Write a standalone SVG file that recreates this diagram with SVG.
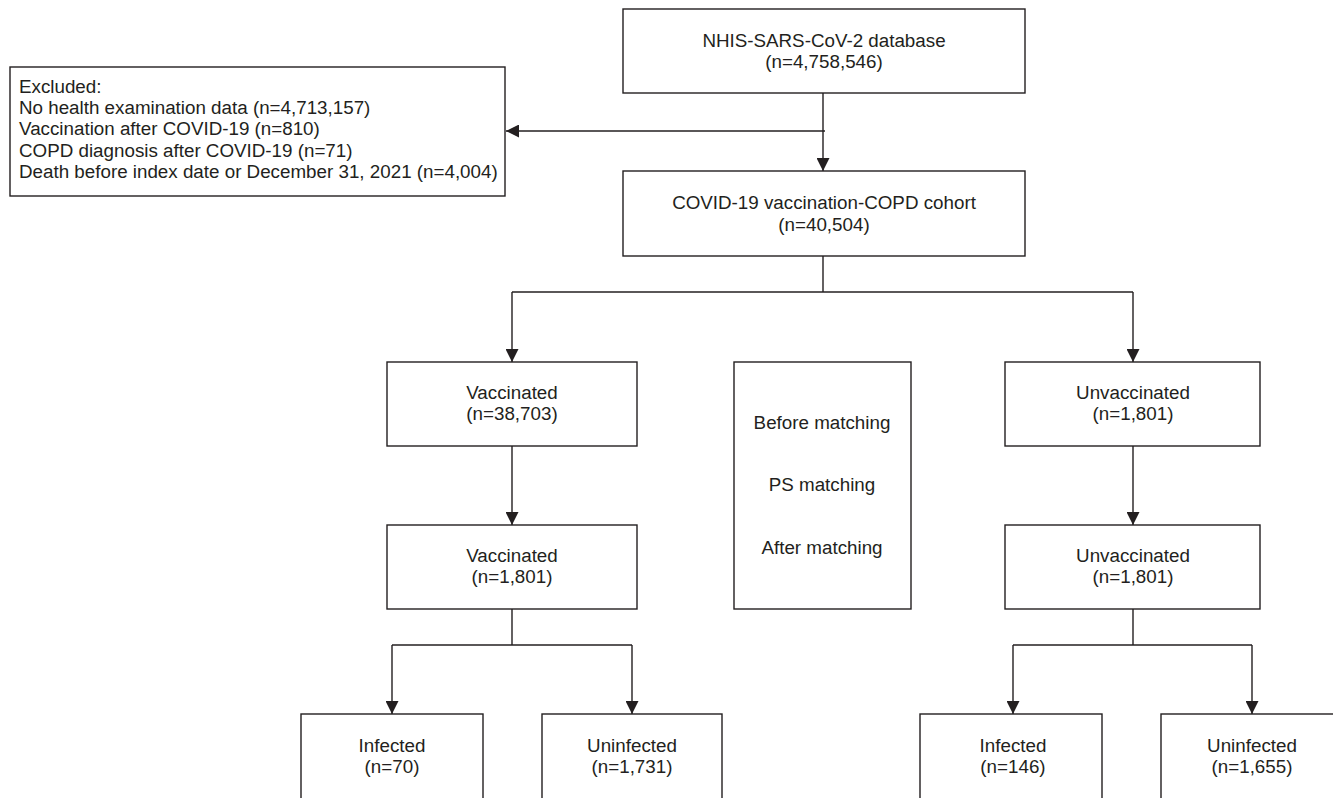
<svg xmlns="http://www.w3.org/2000/svg" width="1333" height="798" viewBox="0 0 1333 798">
<style>
.box{fill:#fff;stroke:#231f20;stroke-width:1.4}
.t{font-family:"Liberation Sans",Arial,sans-serif;font-size:18.8px;fill:#231f20}
.c{text-anchor:middle}
.ln{fill:none;stroke:#231f20;stroke-width:1.4}
</style>
<defs>
<marker id="ah" viewBox="0 0 13 13" refX="13" refY="6.5" markerWidth="13" markerHeight="13" markerUnits="userSpaceOnUse" orient="auto">
<path d="M0,0 L13,6.5 L0,13 Z" fill="#231f20"/>
</marker>
</defs>
<rect width="1333" height="798" fill="#fff"/>
<g id="connectors">
<line class="ln" x1="823" y1="93" x2="823" y2="171" marker-end="url(#ah)"/>
<line class="ln" x1="825" y1="131" x2="506" y2="131" marker-end="url(#ah)"/>
<line class="ln" x1="823" y1="256" x2="823" y2="292"/>
<line class="ln" x1="512" y1="292" x2="1133" y2="292"/>
<line class="ln" x1="512" y1="292" x2="512" y2="362" marker-end="url(#ah)"/>
<line class="ln" x1="1133" y1="292" x2="1133" y2="362" marker-end="url(#ah)"/>
<line class="ln" x1="512" y1="446" x2="512" y2="525" marker-end="url(#ah)"/>
<line class="ln" x1="1133" y1="446" x2="1133" y2="525" marker-end="url(#ah)"/>
<line class="ln" x1="512" y1="609" x2="512" y2="645"/>
<line class="ln" x1="392" y1="645" x2="632" y2="645"/>
<line class="ln" x1="392" y1="645" x2="392" y2="714" marker-end="url(#ah)"/>
<line class="ln" x1="632" y1="645" x2="632" y2="714" marker-end="url(#ah)"/>
<line class="ln" x1="1133" y1="609" x2="1133" y2="645"/>
<line class="ln" x1="1013" y1="645" x2="1252" y2="645"/>
<line class="ln" x1="1013" y1="645" x2="1013" y2="714" marker-end="url(#ah)"/>
<line class="ln" x1="1252" y1="645" x2="1252" y2="714" marker-end="url(#ah)"/>
</g>
<g id="n-db">
<rect class="box" x="623" y="9" width="402" height="84"/>
<text class="t c" x="824" y="47">NHIS-SARS-CoV-2 database</text>
<text class="t c" x="824" y="68">(n=4,758,546)</text>
</g>
<g id="n-excluded">
<rect class="box" x="10" y="67" width="495" height="129"/>
<text class="t" x="19" y="93">Excluded:</text>
<text class="t" x="19" y="114">No health examination data (n=4,713,157)</text>
<text class="t" x="19" y="135">Vaccination after COVID-19 (n=810)</text>
<text class="t" x="19" y="157">COPD diagnosis after COVID-19 (n=71)</text>
<text class="t" x="19" y="178">Death before index date or December 31, 2021 (n=4,004)</text>
</g>
<g id="n-cohort">
<rect class="box" x="623" y="171" width="402" height="85"/>
<text class="t c" x="824" y="209">COVID-19 vaccination-COPD cohort</text>
<text class="t c" x="824" y="231">(n=40,504)</text>
</g>
<g id="n-vacc1">
<rect class="box" x="387" y="362" width="250" height="84"/>
<text class="t c" x="512" y="399">Vaccinated</text>
<text class="t c" x="512" y="420">(n=38,703)</text>
</g>
<g id="n-stages">
<rect class="box" x="734" y="362" width="177" height="247"/>
<text class="t c" x="822" y="429">Before matching</text>
<text class="t c" x="822" y="491">PS matching</text>
<text class="t c" x="822" y="554">After matching</text>
</g>
<g id="n-unvacc1">
<rect class="box" x="1005" y="362" width="255" height="84"/>
<text class="t c" x="1133" y="399">Unvaccinated</text>
<text class="t c" x="1133" y="420">(n=1,801)</text>
</g>
<g id="n-vacc2">
<rect class="box" x="387" y="525" width="250" height="84"/>
<text class="t c" x="512" y="562">Vaccinated</text>
<text class="t c" x="512" y="583">(n=1,801)</text>
</g>
<g id="n-unvacc2">
<rect class="box" x="1005" y="525" width="255" height="84"/>
<text class="t c" x="1133" y="562">Unvaccinated</text>
<text class="t c" x="1133" y="583">(n=1,801)</text>
</g>
<g id="n-vinf">
<rect class="box" x="301" y="714" width="182" height="100"/>
<text class="t c" x="392" y="752">Infected</text>
<text class="t c" x="392" y="773">(n=70)</text>
</g>
<g id="n-vuninf">
<rect class="box" x="542" y="714" width="180" height="100"/>
<text class="t c" x="632" y="752">Uninfected</text>
<text class="t c" x="632" y="773">(n=1,731)</text>
</g>
<g id="n-uinf">
<rect class="box" x="920" y="714" width="182" height="100"/>
<text class="t c" x="1013" y="752">Infected</text>
<text class="t c" x="1013" y="773">(n=146)</text>
</g>
<g id="n-uuninf">
<rect class="box" x="1161" y="714" width="190" height="100"/>
<text class="t c" x="1252" y="752">Uninfected</text>
<text class="t c" x="1252" y="773">(n=1,655)</text>
</g>
</svg>
